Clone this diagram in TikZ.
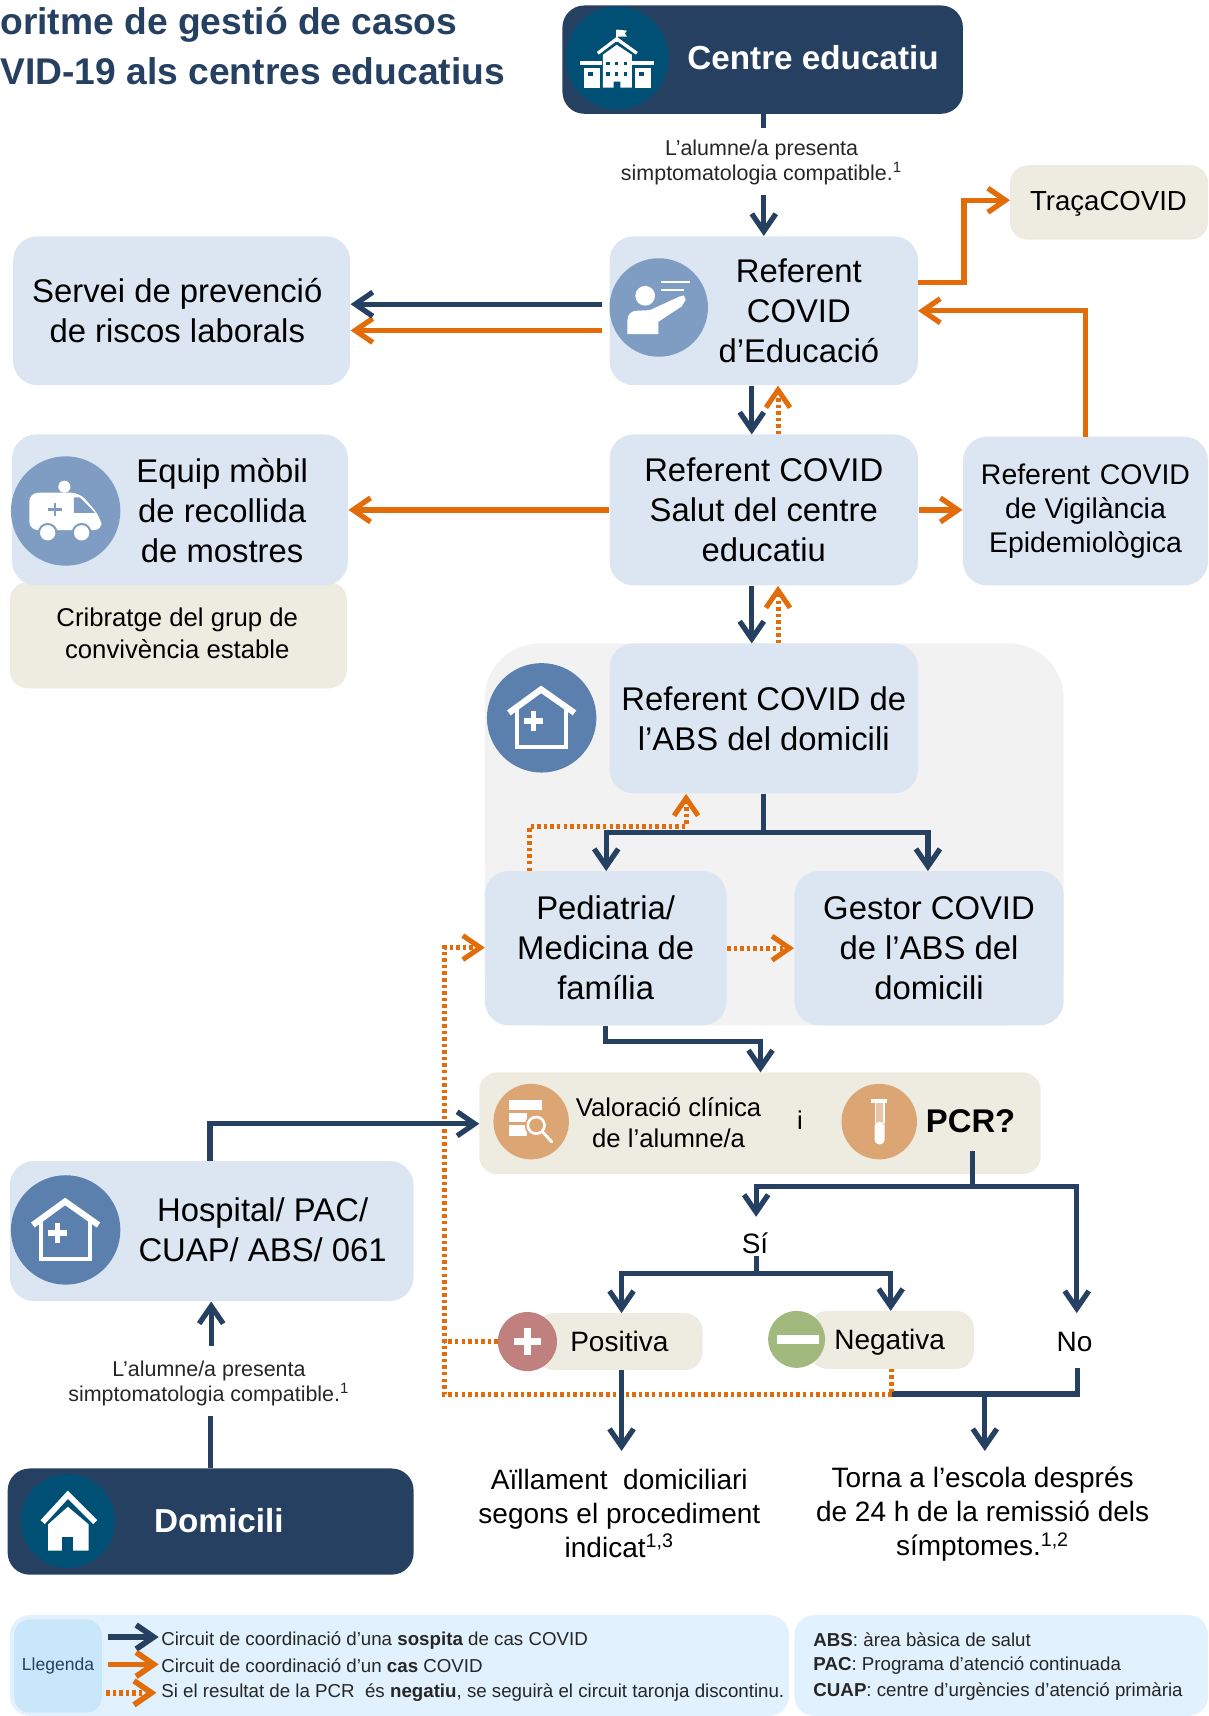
\documentclass[tikz,border=0pt]{standalone}
\usepackage{fontspec}
\setmainfont{Liberation Sans}
\usetikzlibrary{arrows.meta}
\definecolor{navy}{HTML}{264061}
\definecolor{teal}{HTML}{004F74}
\definecolor{pale}{HTML}{DCE6F2}
\definecolor{beige}{HTML}{EEECE1}
\definecolor{oran}{HTML}{E36C0A}
\definecolor{circA}{HTML}{7F9DC2}
\definecolor{circB}{HTML}{5B80AD}
\definecolor{circC}{HTML}{DCA674}
\definecolor{circR}{HTML}{C0807E}
\definecolor{circG}{HTML}{A2B97E}
\definecolor{legA}{HTML}{E1F1FD}
\definecolor{legB}{HTML}{C9E7FB}
\newcommand{\fsz}[2]{\fontsize{#1}{#2}\selectfont}
\newcommand{\bx}[7]{\node[#6,inner sep=0pt,minimum width={(#4-#2)*0.5pt},minimum height={(#5-#3)*0.5pt},at={({(#2+#4)/2},{(#3+#5)/2})}] (#1) {#7};}
\newcommand{\tx}[5]{\node[inner sep=0pt,align=center,#4,at={(#2,#3)}] (#1) {#5};}
\newcommand{\houseplus}[2]{\begin{scope}[shift={(#1,#2)}]
 \draw[white,line width=2pt] (-22.5,-8) -- (-22.5,26.5) -- (22.5,26.5) -- (22.5,-8);
 \draw[white,line width=2.8pt,line join=miter] (-30,-4.5) -- (-0.5,-26) -- (30,-4.5);
 \fill[white] (-10,-6) rectangle (-5,12);
 \fill[white] (-16.5,0.5) rectangle (1.5,5.5);
\end{scope}}
\tikzset{
 pbox/.style={fill=pale,rounded corners=11pt,align=center},
 bbox/.style={fill=beige,rounded corners=8pt,align=center},
 dbox/.style={fill=navy,rounded corners=10pt,align=center},
 lbox/.style={fill=legA,rounded corners=9pt},
 big/.style={font=\fsz{15}{18.3}},
 mid/.style={font=\fsz{12.8}{15.5}},
 sml/.style={font=\fsz{11.75}{14.5}},
 tiny/.style={font=\fsz{9.8}{11.5},text=black!85},
 leg/.style={font=\fsz{8.55}{12},anchor=west,text=black!85},
 bline/.style={draw=navy,line width=2.4pt},
 oline/.style={draw=oran,line width=2.4pt},
 odot/.style={draw=oran,line width=2.3pt,dash pattern=on 1.6pt off 1.4pt},
 arr/.style={-{Straight Barb[length=8pt,width=11pt]}},
}
\begin{document}
\begin{tikzpicture}[x=0.5pt,y=-0.5pt]
\useasboundingbox (0,0) rectangle (1104,1568.2);
% title
\tx{t1}{0}{23}{anchor=west,font=\fsz{17}{20}\bfseries,text=navy}{oritme de gestió de casos}
\tx{t2}{0}{65}{anchor=west,font=\fsz{17}{20}\bfseries,text=navy}{VID-19 als centres educatius}
% backgrounds
\bx{grey}{443}{588}{972}{937}{fill=black!5,rounded corners=25pt}{}
\bx{crib}{9}{532}{317}{629}{bbox}{}
% boxes
\bx{cedu}{514}{5}{880}{104}{dbox}{}
\bx{serv}{12}{216}{320}{352}{pbox}{}
\bx{refe}{557}{216}{839}{352}{pbox}{}
\bx{trac}{923}{151}{1104}{219}{bbox}{}
\bx{equi}{11}{397}{318}{535}{pbox}{}
\bx{salu}{557}{397}{839}{535}{pbox,big}{Referent COVID\\Salut del centre\\educatiu}
\bx{vigi}{880}{399}{1104}{535}{pbox,font=\fsz{13}{15.5}}{Referent\hspace{4.5pt}COVID\\de Vigilància\\Epidemiològica}
\bx{absd}{557}{588}{839}{725}{pbox,big}{Referent COVID de\\l’ABS del domicili}
\bx{pedi}{443}{796}{664}{937}{pbox,big}{Pediatria/\\Medicina de\\família}
\bx{gest}{726}{796}{972}{937}{pbox,big}{Gestor COVID\\de l’ABS del\\domicili}
\bx{valo}{438}{980}{951}{1073}{bbox}{}
\bx{hosp}{9}{1061}{378}{1189}{pbox}{}
\bx{posi}{490}{1200}{642}{1252}{bbox}{}
\bx{nega}{740}{1198}{890}{1251}{bbox}{}
\bx{domi}{7}{1342}{378}{1439}{dbox}{}
\bx{lega}{9}{1476}{721}{1568}{lbox}{}
\bx{legb}{726}{1476}{1104}{1568}{lbox}{}
\bx{legc}{13}{1480}{93}{1565}{fill=legB,rounded corners=7pt,font=\fsz{8}{9},text=navy}{Llegenda}
% texts in boxes
\tx{tcedu}{743}{53}{font=\fsz{15.2}{18}\bfseries,text=white}{Centre educatiu}
\tx{tserv}{162}{284}{big}{Servei de prevenció\\de riscos laborals}
\tx{trefe}{730}{284}{big}{Referent\\COVID\\d’Educació}
\tx{ttrac}{1013}{186}{font=\fsz{12.6}{15}}{TraçaCOVID}
\tx{tequi}{203}{467}{big}{Equip mòbil\\de recollida\\de mostres}
\tx{tcrib}{162}{579}{sml}{Cribratge del grup de\\convivència estable}
\tx{tval}{611}{1026}{sml}{Valoració clínica\\de l’alumne/a}
\tx{ti}{731}{1024}{sml}{i}
\tx{tpcr}{887}{1025}{font=\fsz{15}{18}\bfseries}{PCR?}
\tx{thos}{240}{1124}{big}{Hospital/ PAC/\\CUAP/ ABS/ 061}
\tx{tpos}{566}{1226}{mid}{Positiva}
\tx{tneg}{813}{1227}{mid}{Negativa}
\tx{tno}{982}{1226}{mid}{No}
\tx{tsi}{690}{1136}{mid}{Sí}
\tx{tail}{566}{1383}{mid}{Aïllament\ \ domiciliari\\segons el procediment\\indicat\textsuperscript{1,3}}
\tx{ttor}{898}{1384}{mid}{Torna\ a\ l’escola després\\de 24 h de la remissió dels\\símptomes.\textsuperscript{1,2}}
\tx{tdom}{200}{1390}{font=\fsz{15.2}{18}\bfseries,text=white}{Domicili}
\tx{lab}{696}{148.5}{tiny,minimum height=30.5pt}{L’alumne/a presenta\\simptomatologia compatible.\textsuperscript{1}}
\tx{lac}{191}{1264}{tiny,minimum height=32pt}{L’alumne/a presenta\\simptomatologia compatible.\textsuperscript{1}}
% legend text
\tx{l1}{147}{1499}{leg}{Circuit de coordinació d’una \textbf{sospita} de cas COVID}
\tx{l2}{147}{1522}{leg}{Circuit de coordinació d’un \textbf{cas} COVID}
\tx{l3}{147}{1547}{leg}{Si el resultat de la PCR\ \ és \textbf{negatiu}, se seguirà el circuit taronja discontinu.}
\tx{r1}{743}{1498}{leg}{\textbf{ABS}: àrea bàsica de salut}
\tx{r2}{743}{1522}{leg}{\textbf{PAC}: Programa d’atenció continuada}
\tx{r3}{743}{1546}{leg}{\textbf{CUAP}: centre d’urgències d’atenció primària}
% icon circles
\fill[teal] (564,53) circle[radius=47];
\fill[circA] (602,281) circle[radius=45];
\fill[circA] (60,467) circle[radius=50];
\fill[circB] (495,656) circle[radius=50];
\fill[circB] (60,1124) circle[radius=50];
\fill[circC] (485.4,1025) circle[radius=34.5];
\fill[circC] (803.5,1025) circle[radius=34.5];
\fill[circR] (482,1226) circle[radius=27];
\fill[circG] (728,1224) circle[radius=26];
\fill[teal] (62,1390) circle[radius=43];
% school icon
\draw[white,line width=1pt] (563.6,27) -- (563.6,38);
\fill[white] (563.6,27) -- (573,28) -- (571,30.5) -- (573,33.5) -- (563.6,33.5) -- cycle;
\fill[white] (551,50) -- (563.6,41) -- (577.4,50) -- (577.4,80) -- (567,80) -- (567,74.6) -- (560.8,74.6) -- (560.8,80) -- (551,80) -- cycle;
\draw[white,line width=1.5pt] (546.3,48.7) -- (563.6,35.5) -- (582,48.7);
\fill[white] (530,55.5) rectangle (550,59.4);
\fill[white] (578,55.5) rectangle (598,59.4);
\fill[white] (533.6,62.5) rectangle (548,80);
\fill[white] (580,62.5) rectangle (594.5,80);
\foreach \a in {554,562.1,570.3}{\fill[teal] (\a,56.5) rectangle +(3,3); \fill[teal] (\a,66) rectangle +(3,3);}
\fill[teal] (537.5,65.5) rectangle (542,69.5);
\fill[teal] (584,65.5) rectangle (588.6,69.5);
% teacher icon
\fill[white] (589.6,270.3) circle[radius=9];
\fill[white] (573.4,305.3) -- (573.4,293) .. controls (573.4,287) and (577,284) .. (582,284) -- (594,283.4) -- (621,271) -- (625,270) -- (626.6,274) -- (623,280) -- (601.7,294) -- (601.7,305.3) -- cycle;
\fill[white] (604,256.7) rectangle (631,258.5);
\fill[white] (604,264) rectangle (625,266);
% ambulance icon
\fill[white] (58.8,444.8) circle[radius=5.5];
\fill[white,rounded corners=4pt] (26.8,450.3) -- (73,450.3) -- (91.4,472) -- (93.9,484.5) -- (26.8,484.5) -- cycle;
\fill[circA] (67.6,454.6) -- (73,454.6) -- (86.8,468.6) -- (67.6,468.6) -- cycle;
\fill[circA] (49.1,459.5) rectangle (51.5,472);
\fill[circA] (44.2,464.4) rectangle (56.4,466.8);
\foreach \a in {43.6,74.6}{\fill[circA] (\a,486.9) circle[radius=9]; \fill[white] (\a,486.9) circle[radius=7];}
% house-plus icons
\houseplus{495}{656}
\houseplus{60}{1124}
% clinical icon
\fill[white] (464.7,1004.9) rectangle (495.7,1014);
\fill[white] (464.7,1017) rectangle (481.5,1025.3);
\fill[white] (464.7,1028.4) rectangle (481.5,1038);
\fill[circC] (490,1028.4) circle[radius=10.5];
\draw[white,line width=1.2pt] (490,1028.4) circle[radius=7.6];
\draw[white,line width=1.3pt,line cap=round] (495.5,1034) -- (504.3,1043.6);
% tube icon
\fill[white,opacity=.35] (799.2,1007) rectangle (808.4,1030);
\fill[white] (796.2,1004.6) rectangle (811,1007.6);
\fill[white] (799.2,1007) rectangle (800.4,1026);
\fill[white] (807.2,1007) rectangle (808.4,1026);
\fill[white,rounded corners=2pt] (799.2,1025.3) rectangle (808.4,1045.7);
% plus, minus
\fill[white] (478.5,1214) rectangle (485.5,1238);
\fill[white] (470,1222.5) rectangle (494,1229.5);
\fill[white] (710,1220) rectangle (748,1228);
% home icon
\fill[white] (62,1377) -- (81,1393) -- (81,1417) -- (44,1417) -- (44,1393) -- cycle;
\fill[teal] (57,1405) rectangle (67,1417);
\draw[white,line width=2.6pt,line join=miter] (39,1391) -- (62,1366) -- (87,1391);
% named free ends
\coordinate (refW1) at (550,278);
\coordinate (refW2) at (550,302);
\coordinate (refE1) at (839,258);
\coordinate (refE2) at (839,284);
\coordinate (vigN) at (992,399);
\coordinate (tracW) at (923,183);
\coordinate (jTrac) at (881,183);
\coordinate (salN1) at (687,397);
\coordinate (salN2) at (711,397);
\coordinate (absN1) at (687,588);
\coordinate (absN2) at (711,588);
\coordinate (absB) at (698,761);
\coordinate (pediN) at (554,796);
\coordinate (gestN) at (848,796);
\coordinate (pedN2) at (484,796);
\coordinate (jPed) at (627,755);
\coordinate (jPed2) at (695,952);
\coordinate (valN) at (695,980);
\coordinate (valW) at (438,1027);
\coordinate (hosN) at (192,1061);
\coordinate (pcrS) at (889,1052);
\coordinate (jPcr) at (889,1084);
\coordinate (siN) at (691,1112);
\coordinate (noN) at (984,1200);
\coordinate (siS) at (691,1148);
\coordinate (jSi) at (691,1164);
\coordinate (posN) at (568,1200);
\coordinate (negN) at (814,1198);
\coordinate (posS) at (568,1252);
\coordinate (ailN) at (568,1326);
\coordinate (negS) at (815,1251);
\coordinate (jNeg) at (815,1274);
\coordinate (noS) at (985,1250);
\coordinate (jTor) at (900,1274);
\coordinate (torN) at (900,1326);
\coordinate (posW) at (455,1226);
\coordinate (vBot) at (406,1274);
\coordinate (vLine) at (406,1226);
\coordinate (vTop) at (406,866);
\coordinate (pedW) at (443,866);
\coordinate (lacN) at (193,1230);
\coordinate (labS) at (698,178);
% orange solid
\draw[oline,arr] (refE1) -- (refE1 -| jTrac) -- (jTrac) -- (tracW);
\draw[oline,arr] (vigN) -- (vigN |- refE2) -- (refE2);
\draw[oline,arr] (refW2) -- (refW2 -| serv.east);
\draw[oline,arr] (salu.west) -- (salu.west -| equi.east);
\draw[oline,arr] (salu.east) -- (salu.east -| vigi.west);
% orange dotted
\draw[odot,arr] (salN2) -- (salN2 |- refe.south);
\draw[odot,arr] (absN2) -- (absN2 |- salu.south);
\draw[odot,arr] (pedN2) -- (pedN2 |- jPed) -- (jPed) -- (jPed |- absd.south);
\draw[odot,arr] (pedi.east) -- (gest.west);
\draw[odot,arr] (jNeg) -- (vBot) -- (vTop) -- (pedW);
\draw[odot] (posW) -- (vLine);
% navy
\draw[bline] (cedu.south) ++(1,0) -- ++(0,13);
\draw[bline,arr] (labS) -- (refe.north);
\draw[bline,arr] (refW1) -- (refW1 -| serv.east);
\draw[bline,arr] (salN1 |- refe.south) -- (salN1);
\draw[bline,arr] (absN1 |- salu.south) -- (absN1);
\draw[bline] (absd.south) -- (absB);
\draw[bline,arr] (absB) -- (absB -| pediN) -- (pediN);
\draw[bline,arr] (absB) -- (absB -| gestN) -- (gestN);
\draw[bline,arr] (pedi.south) -- (pedi.south |- jPed2) -- (jPed2) -- (valN);
\draw[bline,arr] (hosN) -- (hosN |- valW) -- (valW);
\draw[bline] (pcrS) -- (jPcr);
\draw[bline,arr] (jPcr) -- (jPcr -| siN) -- (siN);
\draw[bline,arr] (jPcr) -- (jPcr -| noN) -- (noN);
\draw[bline] (siS) -- (jSi);
\draw[bline,arr] (jSi) -- (jSi -| posN) -- (posN);
\draw[bline,arr] (jSi) -- (jSi -| negN) -- (negN);
\draw[bline,arr] (posS) -- (ailN);
\draw[bline] (noS) -- (noS |- jNeg) -- (jNeg);
\draw[bline,arr] (jTor) -- (torN);
\draw[odot] (negS) -- (jNeg);
\draw[bline] (domi.north) -- ++(0,-48);
\draw[bline,arr] (lacN) -- (lacN |- hosp.south);
% legend arrows
\coordinate (la1) at (99,1496); \coordinate (la2) at (99,1521); \coordinate (la3) at (97,1547);
\coordinate (le1) at (145,1496); \coordinate (le2) at (145,1521); \coordinate (le3) at (143,1547);
\draw[bline,arr,line width=2.6pt] (la1) -- (le1);
\draw[oline,arr,line width=2.6pt] (la2) -- (le2);
\draw[odot,arr,line width=2.6pt] (la3) -- (le3);
\end{tikzpicture}
\end{document}
